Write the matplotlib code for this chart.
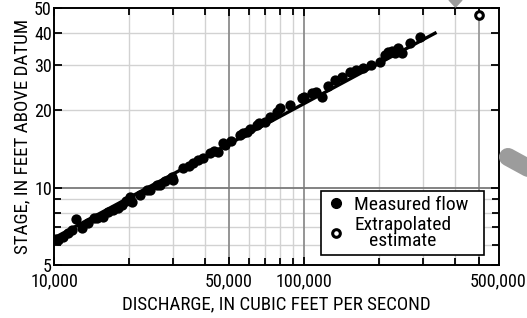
import numpy as np
import matplotlib
matplotlib.use("Agg")
import matplotlib.pyplot as plt
from matplotlib.lines import Line2D
from matplotlib.patches import Polygon
from matplotlib.transforms import ScaledTranslation

plt.rcParams['font.family'] = ['Roboto Condensed', 'DejaVu Sans']

# measured flows (discharge in ft3/s, stage in ft above datum)
measured_q = [10200, 10400, 10900, 11400, 11800, 12300, 12900, 13700, 14400, 14900,
              15700, 16500, 17200, 18100, 18700, 19400, 20100, 20500, 22100, 23500,
              24200, 25700, 26500, 27800, 29600, 30000, 32900, 34500, 36100, 37800,
              39500, 42100, 43500, 45400, 47600, 48300, 51000, 55500, 57200, 59000,
              61000, 64700, 66000, 69800, 73000, 77800, 80200, 88000, 97900, 100000,
              107300, 112000, 117700, 125000, 133000, 142000, 152800, 162000, 172700,
              185000, 201400, 210000, 217400, 225000, 232000, 238400, 246000, 265000,
              291100]
measured_stage = [6.30, 6.26, 6.45, 6.64, 6.85, 7.53, 6.95, 7.27, 7.60, 7.60,
                  7.71, 8.07, 8.20, 8.32, 8.57, 8.90, 9.23, 8.82, 9.37, 9.80,
                  9.80, 10.25, 10.25, 10.60, 11.04, 10.72, 11.90, 12.10, 12.45, 12.80,
                  13.02, 13.62, 13.90, 13.82, 14.90, 14.67, 15.20, 16.05, 16.29, 16.53,
                  16.90, 17.55, 17.82, 18.08, 18.90, 19.77, 20.39, 21.00, 22.30, 22.50,
                  23.32, 23.50, 22.62, 25.00, 26.28, 27.00, 28.31, 28.80, 29.19,
                  30.20, 30.97, 32.80, 33.88, 34.20, 33.50, 34.94, 33.40, 36.50,
                  38.76]

# rating curve fit
fit_q = [10000, 334000]
fit_stage = [6.37, 40.0]

# extrapolated estimate
extrap_q = [500000]
extrap_stage = [47.0]

x_major = [10000, 50000, 100000, 500000]
x_major_labels = ['10,000', '50,000', '100,000', '500,000']
x_minor = [20000, 30000, 40000, 60000, 70000, 80000, 90000, 200000, 300000, 400000]
y_major = [5, 10, 20, 30, 40, 50]
y_minor = [6, 7, 8, 9]
x_dark = [50000, 100000]
x_mid = [500000]
y_dark = [10]

fig = plt.figure(figsize=(5.27, 3.18), dpi=100)
ax = fig.add_axes([0.1025, 0.1667, 0.8444, 0.8072])
ax.set_xscale('log')
ax.set_yscale('log')
ax.set_xlim(10000, 602000)
ax.set_ylim(5, 50)

ax.set_xticks(x_major, x_major_labels)
ax.set_xticks(x_minor, minor=True)
ax.set_yticks(y_major, [str(v) for v in y_major])
ax.set_yticks(y_minor, minor=True)
ax.xaxis.set_minor_formatter(plt.NullFormatter())
ax.yaxis.set_minor_formatter(plt.NullFormatter())

ax.tick_params(which='both', direction='in', top=True, right=True,
               width=1.3, colors='black', labelsize=13)
ax.tick_params(which='major', length=5.5)
ax.tick_params(which='minor', length=5)
ax.tick_params(axis='x', pad=5)
ax.tick_params(axis='y', pad=1.5)

# grid
light = '#d2d2d2'
for v in x_minor:
    ax.axvline(v, color=light, lw=1.0, zorder=0)
for v in [20, 30, 40] + y_minor:
    ax.axhline(v, color=light, lw=1.0, zorder=0)
for v in x_dark:
    ax.axvline(v, color='#8c8c8c', lw=1.3, zorder=0.5)
for v in x_mid:
    ax.axvline(v, color='#9a9a9a', lw=1.3, zorder=0.5)
for v in y_dark:
    ax.axhline(v, color='#7a7a7a', lw=1.3, zorder=0.5)

for s in ax.spines.values():
    s.set_linewidth(1.4)

ax.plot(fit_q, fit_stage, color='black', lw=2.4, zorder=3)
ax.scatter(measured_q, measured_stage, s=55, color='black', zorder=4, linewidths=0)
ax.scatter(extrap_q, extrap_stage, s=30, facecolor='white', edgecolor='black',
           linewidths=2.2, zorder=4)

ax.set_xlabel('DISCHARGE, IN CUBIC FEET PER SECOND', fontsize=13.6, labelpad=4)
ax.set_ylabel('STAGE, IN FEET ABOVE DATUM', fontsize=13.6, labelpad=2)

handles = [
    Line2D([], [], marker='o', color='black', ls='none', markersize=7),
    Line2D([], [], marker='o', markerfacecolor='white', markeredgecolor='black',
           markeredgewidth=2.2, ls='none', markersize=5.5),
]
leg = ax.legend(handles, ['Measured flow', 'Extrapolated\nestimate'],
                loc='lower left', bbox_to_anchor=(0.600, 0.039, 0.366, 0.245),
                mode='expand', fontsize=14, frameon=True, fancybox=False,
                framealpha=1, edgecolor='black', handletextpad=0.45,
                handlelength=1.0, borderpad=0.25, labelspacing=0.1,
                borderaxespad=0)
leg.get_frame().set_linewidth(1.2)
for t in leg.get_texts():
    t.set_multialignment('center')
    t.set_linespacing(0.88)

# shift the last x label to the right as in the original
fig.canvas.draw()
lbl = ax.get_xticklabels()[-1]
lbl.set_transform(lbl.get_transform() + ScaledTranslation(0.19, 0, fig.dpi_scale_trans))

# grey fragments of the surrounding artwork
fig.patches.append(Polygon([[449 / 527, 1], [462 / 527, 1], [455.5 / 527, 1 - 7 / 318]],
                           closed=True, transform=fig.transFigure, color='#9c9c9c'))
fig.lines.append(Line2D([508 / 527, 530 / 527], [1 - 157 / 318, 1 - 169 / 318],
                        transform=fig.transFigure, color='#9c9c9c', lw=13,
                        solid_capstyle='round'))

fig.savefig('out.png', dpi=100)
